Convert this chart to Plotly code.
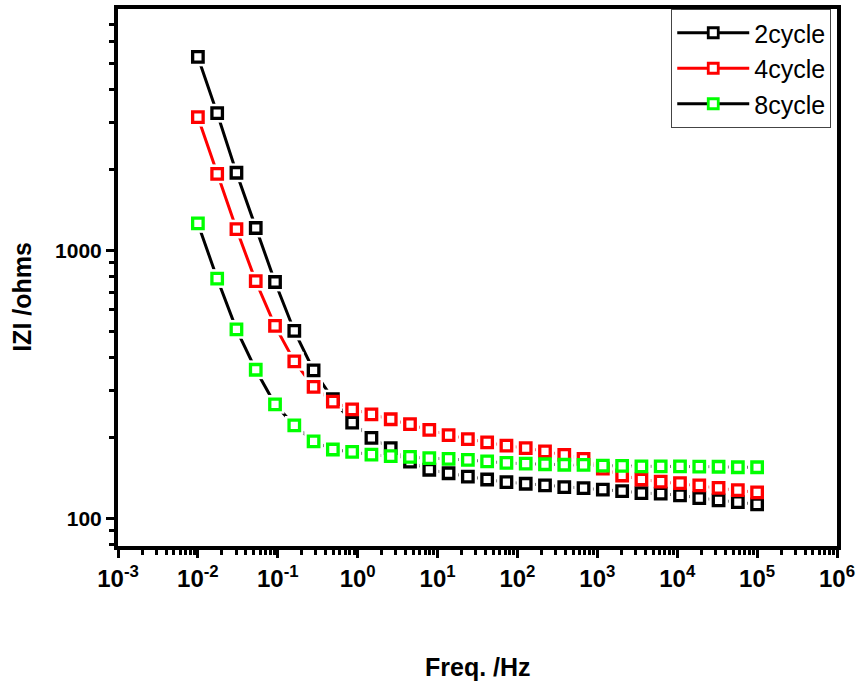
import plotly.graph_objects as go

# Frequency sweep (Hz) and impedance modulus |Z| (ohms) for each cycle count
freq = [0.01, 0.01743, 0.03039, 0.05298, 0.09237, 0.1610, 0.2807, 0.4894, 0.8532, 1.487,
        2.593, 4.520, 7.880, 13.74, 23.95, 41.75, 72.79, 126.9, 221.2, 385.7,
        672.4, 1172, 2044, 3563, 6212, 10829, 18880, 32914, 57383, 100000]

z_2cycle = [5276, 3253, 1950, 1213, 763, 501, 357, 279, 228, 200,
            183, 163, 152, 147.5, 143.4, 139.8, 136.6, 134.8, 132.9, 130.9,
            129.8, 128.1, 126.6, 124.4, 123.8, 122.0, 119.2, 116.9, 115.2, 113.0]

z_4cycle = [3144, 1933, 1202, 768, 523, 386, 310, 273, 255.5, 244.8,
            234.6, 224.9, 214.2, 204.7, 197.8, 192.2, 186.9, 183.2, 178.0, 172.6,
            166.8, 153.6, 144.7, 139.8, 137.2, 135.5, 132.9, 130.1, 127.6, 125.1]

z_8cycle = [1262, 786, 508, 359, 266.7, 222.6, 194.1, 180.9, 177.2, 173.0,
            170.8, 169.7, 168.0, 166.8, 165.4, 163.3, 161.2, 160.2, 159.4, 158.7,
            158.5, 157.5, 157.1, 156.6, 156.6, 156.4, 156.2, 156.0, 155.3, 155.3]

series = [
    ("2cycle", z_2cycle, "#000000", "#000000"),
    ("4cycle", z_4cycle, "#ff0000", "#ff0000"),
    ("8cycle", z_8cycle, "#00ff00", "#000000"),
]

x_major = [1e-3, 1e-2, 1e-1, 1e0, 1e1, 1e2, 1e3, 1e4, 1e5, 1e6]
x_labels = ["10<sup>-3</sup>", "10<sup>-2</sup>", "10<sup>-1</sup>", "10<sup>0</sup>",
            "10<sup>1</sup>", "10<sup>2</sup>", "10<sup>3</sup>", "10<sup>4</sup>",
            "10<sup>5</sup>", "10<sup>6</sup>"]
y_major = [100, 1000]
y_labels = ["100", "1000"]

x_minor = [k * 10.0 ** d for d in range(-3, 6) for k in range(2, 10)]
y_minor = [k * 10.0 ** d for d in (1, 2, 3) for k in range(2, 10)]

MSIZE = 10.5
MLINE = 3.3
GAP = 2.5
FONT = "Liberation Sans, Arial, sans-serif"

fig = go.Figure()

# connecting lines
for name, z, mcol, lcol in series:
    fig.add_trace(go.Scatter(x=freq, y=z, mode="lines", showlegend=False,
                             line=dict(color=lcol, width=3), hoverinfo="skip"))

# white halos leave a small gap between each symbol and its line
for name, z, mcol, lcol in series:
    fig.add_trace(go.Scatter(x=freq, y=z, mode="markers", showlegend=False,
                             marker=dict(symbol="square", color="white",
                                         size=MSIZE + MLINE + 2 * GAP,
                                         line=dict(width=0)),
                             hoverinfo="skip"))

# open square symbols
for name, z, mcol, lcol in series:
    fig.add_trace(go.Scatter(x=freq, y=z, mode="markers", name=name, showlegend=False,
                             marker=dict(symbol="square", color="white", size=MSIZE,
                                         line=dict(color=mcol, width=MLINE))))

# legend entries
for name, z, mcol, lcol in series:
    fig.add_trace(go.Scatter(x=[None], y=[None], mode="lines+markers", name=name,
                             line=dict(color=lcol, width=3),
                             marker=dict(symbol="square", color="white", size=10,
                                         line=dict(color=mcol, width=2.8))))

fig.update_layout(
    width=860, height=692,
    margin=dict(l=118, r=21, t=5, b=146),
    paper_bgcolor="white", plot_bgcolor="white",
    showlegend=True,
    legend=dict(x=0.992, y=1.0, xanchor="right", yanchor="top",
                bgcolor="white", bordercolor="#444444", borderwidth=1,
                font=dict(family=FONT, size=25, color="black"),
                itemwidth=72, tracegroupgap=0),
    xaxis=dict(type="log", range=[-3, 6], showgrid=False, zeroline=False,
               showline=True, linecolor="black", linewidth=4, mirror=True,
               tickmode="array", tickvals=x_major, ticktext=x_labels,
               ticks="outside", ticklen=8, tickwidth=3, tickcolor="black",
               tickfont=dict(family=FONT, size=24, color="black", weight="bold"),
               minor=dict(tickmode="array", tickvals=x_minor, ticks="outside",
                          ticklen=5, tickwidth=2.5, tickcolor="black", showgrid=False)),
    yaxis=dict(type="log", range=[1.8974, 3.9011], showgrid=False, zeroline=False,
               showline=True, linecolor="black", linewidth=4, mirror=True,
               tickmode="array", tickvals=y_major, ticktext=y_labels,
               ticks="outside", ticklen=8, tickwidth=3, tickcolor="black",
               tickfont=dict(family=FONT, size=21, color="black", weight="bold"),
               minor=dict(tickmode="array", tickvals=y_minor, ticks="outside",
                          ticklen=5, tickwidth=2.5, tickcolor="black", showgrid=False)),
    annotations=[
        dict(text="<b>Freq. /Hz</b>", xref="paper", yref="paper", x=0.5, y=0,
             xanchor="center", yanchor="middle", yshift=-121, showarrow=False,
             font=dict(family=FONT, size=25, color="black")),
        dict(text="<b>IZI /ohms</b>", xref="paper", yref="paper", x=0, y=0.464,
             xanchor="center", yanchor="middle", xshift=-96, textangle=-90,
             showarrow=False,
             font=dict(family=FONT, size=25, color="black")),
    ],
)

fig.write_html("out.html")
